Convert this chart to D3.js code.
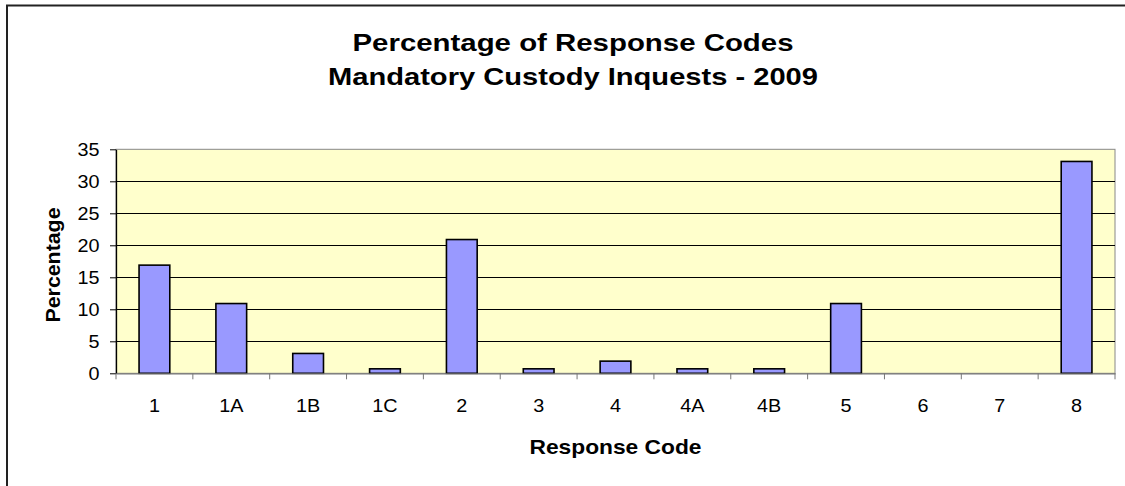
<!DOCTYPE html>
<html>
<head>
<meta charset="utf-8">
<script src="https://cdn.jsdelivr.net/npm/d3@7"></script>
<style>
  body { margin: 0; background: #fff; overflow: hidden; }
  svg { display: block; font-family: Arial, "Liberation Sans", sans-serif; }
</style>
</head>
<body>
<svg width="1125" height="486"></svg>
<script>
// values
var codes = ["1", "1A", "1B", "1C", "2", "3", "4", "4A", "4B", "5", "6", "7", "8"];
var percentages = [16.9, 10.9, 3.1, 0.7, 20.9, 0.7, 1.9, 0.7, 0.7, 10.9, 0, 0, 33.1];
var yTicks = [0, 5, 10, 15, 20, 25, 30, 35];
var titleLines = ["Percentage of Response Codes", "Mandatory Custody Inquests - 2009"];

var svg = d3.select("svg");

var plotLeft = 116, plotRight = 1115, plotTop = 149.3, plotBottom = 373.3;

// chart frame: only the left and top edges are inside the picture
svg.append("path")
  .attr("d", "M7,486V5.5H1125")
  .attr("fill", "none")
  .attr("stroke", "#222")
  .attr("stroke-width", 2);

var x = d3.scaleBand()
  .domain(codes)
  .range([plotLeft, plotRight])
  .paddingInner(0.6)
  .paddingOuter(0.3);

var y = d3.scaleLinear()
  .domain([0, 35])
  .range([plotBottom, plotTop]);

// plot area
svg.append("rect")
  .attr("x", plotLeft).attr("y", plotTop)
  .attr("width", plotRight - plotLeft).attr("height", plotBottom - plotTop)
  .attr("fill", "#FFFFCC")
  .attr("stroke", "#888")
  .attr("stroke-width", 1);

// gridlines
svg.append("g")
  .selectAll("line")
  .data(yTicks.filter(function(d) { return d > 0 && d < 35; }))
  .enter().append("line")
  .attr("x1", plotLeft).attr("x2", plotRight)
  .attr("y1", function(d) { return Math.round(y(d)) + 0.5; })
  .attr("y2", function(d) { return Math.round(y(d)) + 0.5; })
  .attr("stroke", "#000")
  .attr("stroke-width", 1);

// bars
svg.append("g")
  .selectAll("rect")
  .data(codes)
  .enter().append("rect")
  .attr("x", function(d) { return x(d); })
  .attr("width", x.bandwidth())
  .attr("y", function(d, i) { return y(percentages[i]); })
  .attr("height", function(d, i) { return plotBottom - y(percentages[i]); })
  .attr("fill", "#9999FF")
  .attr("stroke", "#000")
  .attr("stroke-width", 1.6)
  .style("display", function(d, i) { return percentages[i] > 0 ? null : "none"; });

// y axis
var yAxis = svg.append("g")
  .attr("transform", "translate(" + plotLeft + ",0)")
  .call(d3.axisLeft(y).tickValues(yTicks).tickSize(6).tickSizeOuter(0));

yAxis.attr("font-family", null).attr("font-size", null);
yAxis.select(".domain").attr("stroke", "#000").attr("stroke-width", 1.3);
yAxis.selectAll(".tick line").attr("stroke", "#000");
yAxis.selectAll(".tick text")
  .attr("x", 0)
  .attr("transform", "translate(-16.5,0) scale(1.065,1)")
  .attr("fill", "#000")
  .style("font-size", "18.6px");

// x axis: labels at centres, ticks on category boundaries
var step = x.step();
var xAxis = svg.append("g")
  .attr("transform", "translate(0," + plotBottom + ")")
  .call(d3.axisBottom(x).tickSize(6).tickSizeOuter(0));

xAxis.attr("font-family", null).attr("font-size", null);
xAxis.select(".domain").attr("stroke", "#777").attr("stroke-width", 1.3);
xAxis.selectAll(".tick line")
  .attr("x1", -step / 2).attr("x2", -step / 2)
  .attr("stroke", "#777");
xAxis.append("line")
  .attr("x1", plotRight).attr("x2", plotRight)
  .attr("y1", 0).attr("y2", 6)
  .attr("stroke", "#777");
xAxis.selectAll(".tick text")
  .attr("y", 0).attr("dy", null)
  .attr("transform", "translate(0,38.4) scale(1.065,1)")
  .attr("fill", "#000")
  .style("font-size", "18.6px");

// titles
svg.append("g")
  .selectAll("text")
  .data(titleLines)
  .enter().append("text")
  .attr("x", 573)
  .attr("y", function(d, i) { return 51 + i * 34; })
  .attr("text-anchor", "middle")
  .attr("textLength", function(d, i) { return i === 0 ? 441 : 490; })
  .attr("lengthAdjust", "spacingAndGlyphs")
  .style("font-size", "24px")
  .style("font-weight", "bold")
  .text(function(d) { return d; });

svg.append("text")
  .attr("transform", "translate(60,265) rotate(-90)")
  .attr("text-anchor", "middle")
  .attr("textLength", 115)
  .attr("lengthAdjust", "spacingAndGlyphs")
  .style("font-size", "19.5px")
  .style("font-weight", "bold")
  .text("Percentage");

svg.append("text")
  .attr("x", (plotLeft + plotRight) / 2)
  .attr("y", 454)
  .attr("text-anchor", "middle")
  .attr("textLength", 172)
  .attr("lengthAdjust", "spacingAndGlyphs")
  .style("font-size", "20.5px")
  .style("font-weight", "bold")
  .text("Response Code");
</script>
</body>
</html>
